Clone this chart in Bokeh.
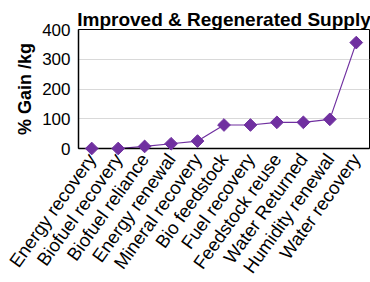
import math
from bokeh.plotting import figure
from bokeh.models import Range1d
from bokeh.embed import file_html
from bokeh.resources import INLINE

categories = ["Energy recovery", "Biofuel recovery", "Biofuel reliance", "Energy renewal",
              "Mineral recovery", "Bio feedstock", "Fuel recovery", "Feedstock reuse",
              "Water Returned", "Humidity renewal", "Water recovery"]
gain = [0, 0, 7, 16, 25, 79, 79, 88, 88, 98, 356]
y_ticks = [0, 100, 200, 300, 400]

p = figure(x_range=categories, y_range=Range1d(0, 400),
           frame_width=291, frame_height=119,
           output_backend="svg", toolbar_location=None,
           min_border_left=78, min_border_right=1, min_border_top=29, min_border_bottom=134)

p.title.text = "Improved & Regenerated Supply"
p.title.align = "center"
p.title.text_font = "Liberation Sans"
p.title.text_font_size = "19px"
p.title.text_font_style = "bold"
p.title.text_color = "black"
p.title.standoff = 0
p.title.offset = 0

p.line(categories, gain, line_color="#7030A0", line_width=1.2)
p.scatter(categories, gain, marker="square", angle=math.pi / 4, size=9,
          fill_color="#7030A0", line_color="#7030A0", level="overlay")

p.yaxis.ticker = y_ticks
p.yaxis.axis_label = "% Gain /kg"
p.yaxis.axis_label_text_font = "Liberation Sans"
p.yaxis.axis_label_text_font_size = "18px"
p.yaxis.axis_label_text_font_style = "bold"
p.yaxis.axis_label_standoff = 4
p.yaxis.major_label_text_font = "Liberation Sans"
p.yaxis.major_label_text_font_size = "17px"
p.yaxis.major_label_standoff = 2

p.xaxis.major_label_orientation = 0.95
p.xaxis.major_label_text_font = "Liberation Sans"
p.xaxis.major_label_text_font_size = "18.5px"
p.xaxis.major_label_standoff = 1

for ax in (p.xaxis[0], p.yaxis[0]):
    ax.axis_line_color = "black"
    ax.axis_line_width = 1.5
    ax.major_tick_line_color = None
    ax.minor_tick_line_color = None
    ax.major_label_text_color = "black"
    ax.axis_label_text_color = "black"

p.xgrid.grid_line_color = None
p.ygrid.grid_line_color = "#d9d9d9"
p.outline_line_color = "black"
p.outline_line_width = 1
p.background_fill_color = "white"
p.border_fill_color = "white"
p.x_range.range_padding = 0

open("out.html", "w").write(file_html(p, INLINE))
